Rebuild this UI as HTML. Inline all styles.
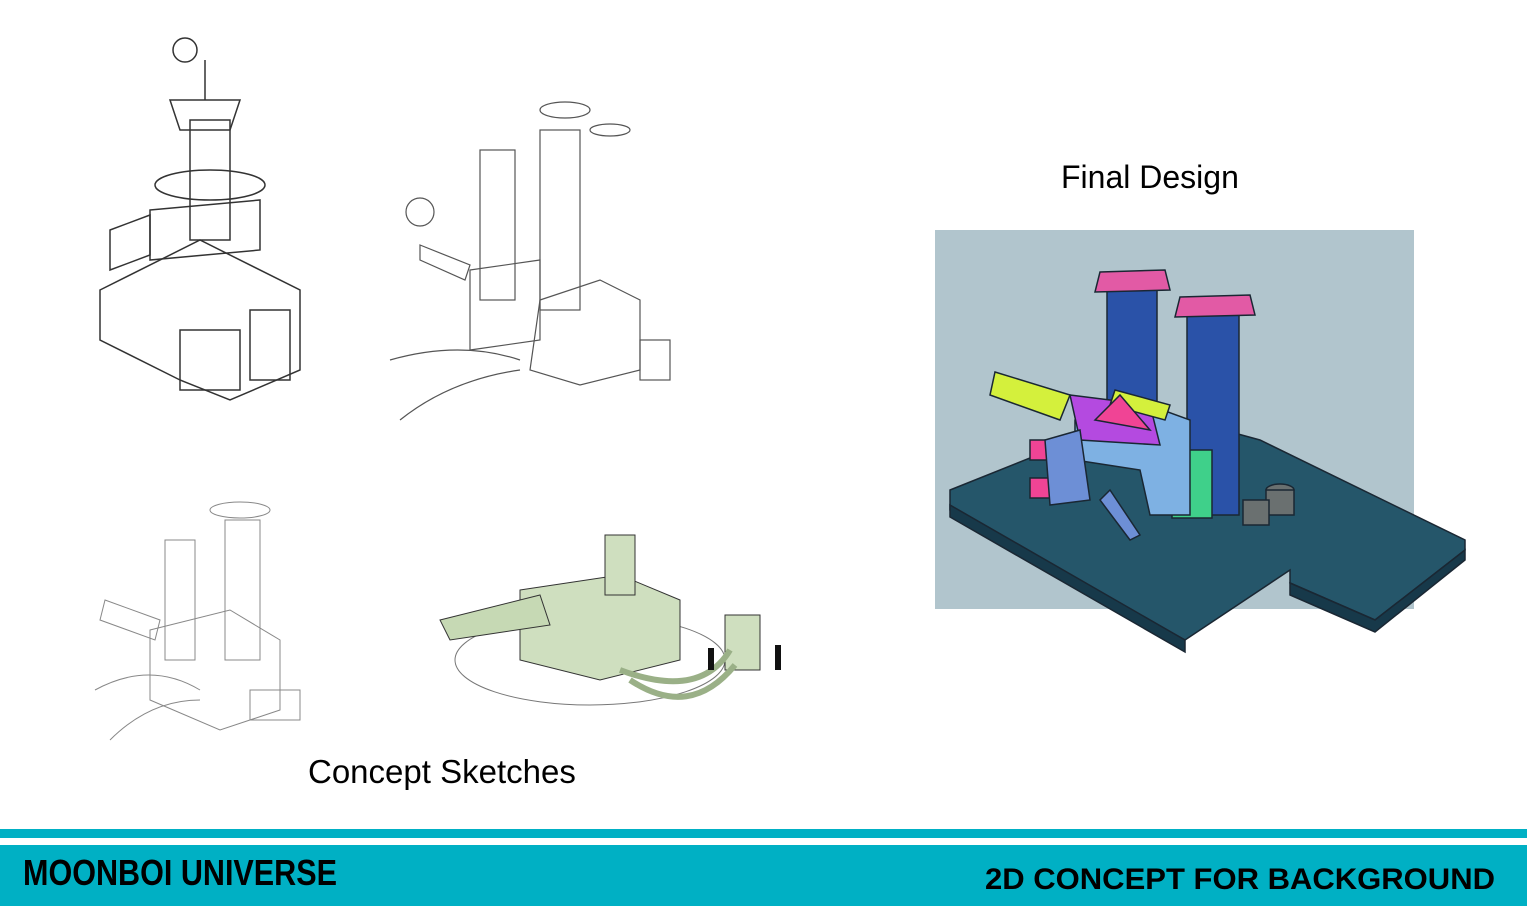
<!DOCTYPE html>
<html><head><meta charset="utf-8"><style>
html,body{margin:0;padding:0;background:#fff;width:1527px;height:906px;overflow:hidden;font-family:"Liberation Sans",sans-serif;position:relative}
.t{position:absolute;color:#000;white-space:nowrap}
</style></head><body>
<svg width="1527" height="906" style="position:absolute;left:0;top:0">
 <g fill="none" stroke="#333" stroke-width="1.5">
  <path d="M100 290 L200 240 L300 290 L300 370 L230 400 L180 380 L100 340 Z"/>
  <path d="M150 210 L260 200 L260 250 L150 260 Z"/>
  <ellipse cx="210" cy="185" rx="55" ry="15"/>
  <rect x="190" y="120" width="40" height="120"/>
  <path d="M170 100 L240 100 L230 130 L180 130 Z"/>
  <line x1="205" y1="60" x2="205" y2="100"/><circle cx="185" cy="50" r="12"/>
  <path d="M110 230 L150 215 L150 255 L110 270 Z"/>
  <rect x="180" y="330" width="60" height="60"/><rect x="250" y="310" width="40" height="70"/>
 </g>
 <g fill="none" stroke="#555" stroke-width="1.2">
  <rect x="540" y="130" width="40" height="180"/><rect x="480" y="150" width="35" height="150"/>
  <path d="M540 300 L600 280 L640 300 L640 370 L580 385 L530 370 Z"/>
  <path d="M470 270 L540 260 L540 340 L470 350 Z"/>
  <path d="M420 245 L470 265 L465 280 L420 260 Z"/>
  <circle cx="420" cy="212" r="14"/>
  <path d="M390 360 Q460 340 520 360 M400 420 Q450 380 520 370"/>
  <rect x="640" y="340" width="30" height="40"/>
  <ellipse cx="565" cy="110" rx="25" ry="8"/><ellipse cx="610" cy="130" rx="20" ry="6"/>
 </g>
 <g fill="none" stroke="#888" stroke-width="1">
  <rect x="225" y="520" width="35" height="140"/><rect x="165" y="540" width="30" height="120"/>
  <path d="M150 630 L230 610 L280 640 L280 710 L220 730 L150 700 Z"/>
  <path d="M105 600 L160 620 L155 640 L100 620 Z"/>
  <path d="M95 690 Q150 660 200 690 M110 740 Q150 700 200 700"/>
  <rect x="250" y="690" width="50" height="30"/>
  <ellipse cx="240" cy="510" rx="30" ry="8"/>
 </g>
 <g stroke="#333" stroke-width="1">
  <ellipse cx="590" cy="660" rx="135" ry="45" fill="none" stroke="#777"/>
  <path d="M520 590 L620 575 L680 600 L680 660 L600 680 L520 660 Z" fill="#cfdfbf"/>
  <path d="M440 620 L540 595 L550 625 L450 640 Z" fill="#c6d9b4"/>
  <rect x="605" y="535" width="30" height="60" fill="#cfdfbf"/>
  <rect x="725" y="615" width="35" height="55" fill="#cfdfbf"/>
  <path d="M620 670 Q700 700 730 650 M630 680 Q690 720 735 665" fill="none" stroke="#9ab087" stroke-width="6"/>
  <rect x="775" y="645" width="6" height="25" fill="#111" stroke="none"/>
  <rect x="708" y="648" width="6" height="22" fill="#111" stroke="none"/>
 </g>
 <rect x="935" y="230" width="479" height="379" fill="#b1c5cd"/>
 <g stroke="#1a2733" stroke-width="1.5">
  <path d="M950 490 L1150 410 L1260 440 L1465 540 L1465 550 L1375 620 L1290 583 L1290 570 L1185 640 L950 510 Z" fill="#25566a"/>
  <path d="M950 505 L1185 640 L1185 652 L950 517 Z" fill="#17394a"/>
  <path d="M1290 583 L1375 620 L1465 550 L1465 560 L1375 632 L1290 595 Z" fill="#17394a"/>
  <rect x="1107" y="290" width="50" height="150" fill="#2a52a8"/>
  <path d="M1100 272 L1165 270 L1170 290 L1095 292 Z" fill="#e25aa5"/>
  <rect x="1187" y="310" width="52" height="205" fill="#2a52a8"/>
  <path d="M1180 297 L1250 295 L1255 315 L1175 317 Z" fill="#e25aa5"/>
  <rect x="1172" y="450" width="40" height="68" fill="#3fd08a"/>
  <path d="M1075 420 L1135 400 L1190 420 L1190 515 L1150 515 L1140 470 L1075 460 Z" fill="#7eb1e3"/>
  <path d="M1070 395 L1150 405 L1160 445 L1080 440 Z" fill="#b44ae0"/>
  <path d="M995 372 L1070 395 L1060 420 L990 395 Z" fill="#d4f03c"/>
  <path d="M1115 390 L1170 405 L1165 420 L1110 405 Z" fill="#d4f03c"/>
  <path d="M1095 420 L1120 395 L1150 430 Z" fill="#f04495"/>
  <rect x="1030" y="440" width="45" height="20" fill="#f04495"/>
  <rect x="1030" y="478" width="45" height="20" fill="#f04495"/>
  <path d="M1045 440 L1080 430 L1090 500 L1050 505 Z" fill="#6d8fd6"/>
  <path d="M1110 490 L1140 535 L1130 540 L1100 500 Z" fill="#6d8fd6"/>
  <ellipse cx="1280" cy="490" rx="14" ry="6" fill="#6a7070"/>
  <rect x="1266" y="490" width="28" height="25" fill="#6a7070"/>
  <rect x="1243" y="500" width="26" height="25" fill="#6a7070"/>
 </g>
 <rect x="0" y="829" width="1527" height="9" fill="#00b0c4"/>
 <rect x="0" y="845" width="1527" height="61" fill="#00b0c4"/>
 <text x="23" y="885" font-family="Liberation Sans Narrow, Liberation Sans, sans-serif" font-size="36" font-weight="bold" fill="#000" textLength="314" lengthAdjust="spacingAndGlyphs">MOONBOI  UNIVERSE</text>
 <text x="985" y="889" font-family="Liberation Sans Narrow, Liberation Sans, sans-serif" font-size="30" font-weight="bold" fill="#000" textLength="510" lengthAdjust="spacingAndGlyphs">2D  CONCEPT  FOR  BACKGROUND</text>
</svg>
<div class="t" style="left:1061px;top:159px;font-size:32px">Final Design</div>
<div class="t" style="left:308px;top:753px;font-size:33px">Concept Sketches</div>
</body></html>
